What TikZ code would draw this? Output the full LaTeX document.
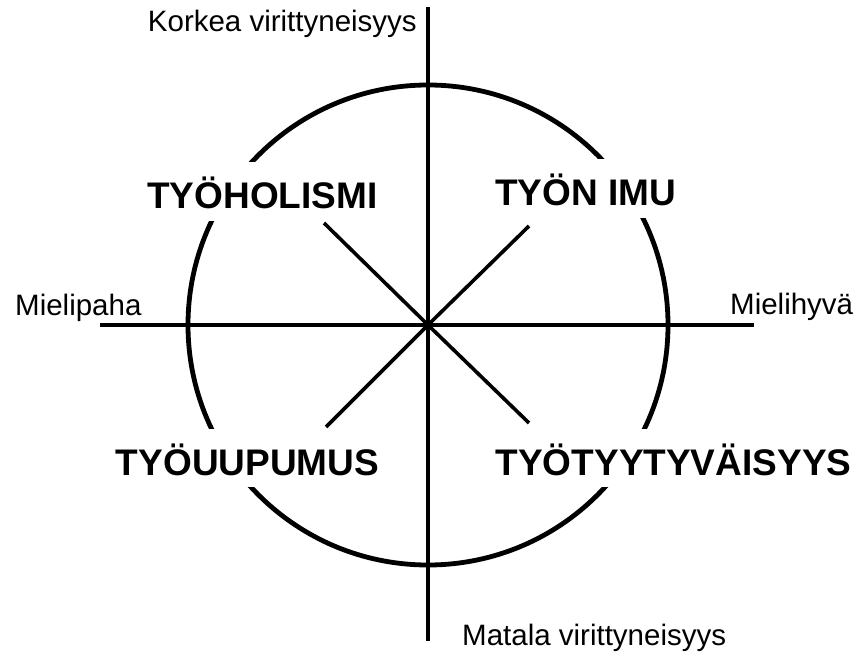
\documentclass[tikz,border=0pt]{standalone}
\usepackage{fontspec}
\setmainfont{Liberation Sans}
\begin{document}
\begin{tikzpicture}[x=1pt,y=-1pt,
  axis/.style={line width=3.6pt},
  ring/.style={line width=4.8pt},
  big/.style={font=\fontsize{37}{40}\selectfont\bfseries, fill=white, inner xsep=4pt, inner ysep=12pt, text height=34.5pt, text depth=0pt, anchor=base},
  small/.style={font=\fontsize{29.5}{32}\selectfont, inner sep=0pt}]
\useasboundingbox (0,0) rectangle (857,652);
\coordinate (O) at (428,325);
\coordinate (T) at (428,7);
\coordinate (B) at (428,641);
\coordinate (L) at (100,325);
\coordinate (R) at (754,325);
\coordinate (NW) at (324,223);
\coordinate (NE) at (529,226);
\coordinate (SW) at (326,427);
\coordinate (SE) at (529,423);
\draw[ring] (O) circle[radius=240];
\node[big] (hol) at (262.5,209) {TYÖHOLISMI};
\node[big] (imu) at (585.5,206) {TYÖN IMU};
\node[big] (uup) at (247.5,475) {TYÖUUPUMUS};
\node[big] (tyy) at (673.5,475) {TYÖTYYTYVÄISYYS};
\draw[axis] (T) -- (B);
\draw[axis] (L) -- (R);
\draw[axis] (O) -- (NW);
\draw[axis] (O) -- (NE);
\draw[axis] (O) -- (SW);
\draw[axis] (O) -- (SE);
\node[small, anchor=base east] (kor) at (417,32) {Korkea virittyneisyys};
\node[small, anchor=base west] (mat) at (462,645) {Matala virittyneisyys};
\node[small, anchor=base west] (mpa) at (15,316) {Mielipaha};
\node[small, anchor=base west] (mhy) at (730,315) {Mielihyvä};
\end{tikzpicture}
\end{document}
